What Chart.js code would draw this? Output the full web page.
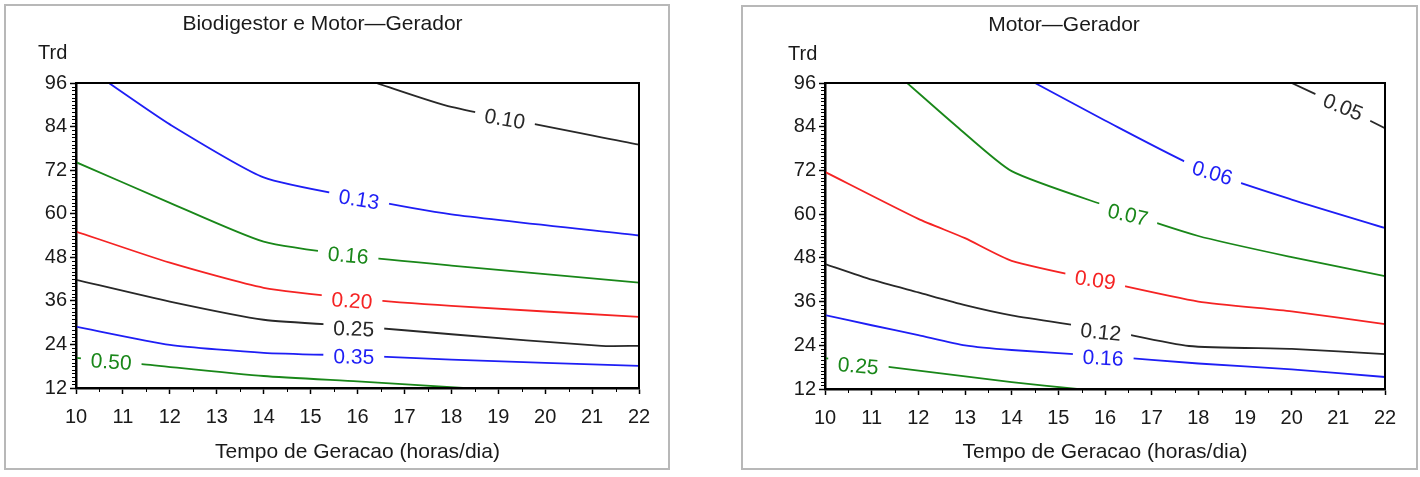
<!DOCTYPE html>
<html>
<head>
<meta charset="utf-8">
<script src="https://cdn.jsdelivr.net/npm/chart.js@4.4.0/dist/chart.umd.min.js"></script>
<style>
  body { margin: 0; background: #fff; width: 1420px; height: 477px; position: relative; overflow: hidden; }
  .panel { position: absolute; border: 2px solid #b8b8b8; }
  #p1 { left: 4px; top: 4px; width: 662px; height: 462px; }
  #p2 { left: 741px; top: 5px; width: 673px; height: 461px; }
  canvas { display: block; }
</style>
</head>
<body>
<div class="panel" id="p1"><canvas id="c1" width="662" height="462"></canvas></div>
<div class="panel" id="p2"><canvas id="c2" width="673" height="461"></canvas></div>
<script>
const FONT = '"Liberation Sans", Arial, sans-serif';

// axis ranges (Tempo de Geracao vs Trd)
const xTicks = [10, 11, 12, 13, 14, 15, 16, 17, 18, 19, 20, 21, 22];
const yTicks = [12, 24, 36, 48, 60, 72, 84, 96];

// Biodigestor e Motor-Gerador : contour lines [hours, Trd]
const bioLevels = ['0.10', '0.13', '0.16', '0.20', '0.25', '0.35', '0.50'];
const bio010 = [[16.4, 96], [18, 89.4], [22, 79]];
const bio013 = [[10.7, 96], [12, 84.6], [14, 70], [16, 64.4], [18, 59.8], [22, 54]];
const bio016 = [[10, 74.2], [12, 63], [14, 52.3], [16, 48.3], [18, 45.7], [22, 41]];
const bio020 = [[10, 55.1], [12, 46.5], [14, 39.6], [16, 36.6], [18, 34.6], [22, 31.6]];
const bio025 = [[10, 41.8], [12, 35.8], [14, 30.8], [16, 29], [18, 26.8], [21.2, 23.6], [22, 23.6]];
const bio035 = [[10, 28.9], [12, 23.9], [14, 21.7], [16, 20.9], [18, 19.8], [22, 18.1]];
const bio050 = [[10, 20.3], [11.4, 18.6], [14, 15.3], [16, 13.8], [18.25, 12]];

// Motor-Gerador : contour lines [hours, Trd]
const mgLevels = ['0.05', '0.06', '0.07', '0.09', '0.12', '0.16', '0.25'];
const mg005 = [[20, 96], [21, 90], [22, 83.6]];
const mg006 = [[14.5, 96], [16, 85.7], [18, 72.7], [20, 64], [22, 56.2]];
const mg007 = [[11.76, 96], [12.83, 84], [14, 71.8], [16, 62.4], [18, 54], [20, 48.2], [22, 43]];
const mg009 = [[10, 71.6], [12, 58.7], [13, 53.4], [14, 47.2], [16, 41.4], [18, 36], [20, 33.3], [22, 29.8]];
const mg012 = [[10, 46.3], [11, 42], [12, 38.5], [13, 35], [14, 32.2], [16, 28.2], [17.8, 23.8], [20, 23], [22, 21.6]];
const mg016 = [[10, 32.3], [11, 29.5], [12, 26.8], [13, 24], [14, 22.7], [16, 21], [18, 19], [20, 17.4], [22, 15.3]];
const mg025 = [[10, 20.5], [11.4, 18], [14, 13.9], [15.4, 12]];

const BLACK = 'rgb(40,40,40)', BLUE = 'rgb(30,30,245)', GREEN = 'rgb(25,135,25)', RED = 'rgb(245,35,35)';
const bioColors = [BLACK, BLUE, GREEN, RED, BLACK, BLUE, GREEN];
const mgColors = [BLACK, BLUE, GREEN, RED, BLACK, BLUE, GREEN];

// where each level's label sits on its line: [x, y, angle deg]
const bioPlace = [[19.14, 86.05, 10], [16.03, 63.9, 9], [15.8, 48.5, 5], [15.88, 36, 4], [15.92, 28.3, 2], [15.92, 20.6, 1], [10.75, 19.2, 4]];
const mgPlace = [[21.1, 89.4, 22], [18.3, 71.3, 17], [16.49, 59.8, 13], [15.79, 41.9, 8], [15.91, 27.6, 6], [15.96, 20.5, 3], [10.71, 18.3, 5]];

const decor = {
  id: 'decor',
  afterDatasetsDraw(chart, args, opts) {
    const {ctx, chartArea: a, scales: {x, y}} = chart;
    ctx.save();
    // contour labels with a gap in the line
    ctx.font = '21px ' + FONT;
    ctx.textAlign = 'center';
    ctx.textBaseline = 'middle';
    opts.levels.forEach((txt, i) => {
      const [lx, ly, ang] = opts.place[i];
      const w = ctx.measureText(txt).width + 20;
      ctx.save();
      ctx.translate(x.getPixelForValue(lx), y.getPixelForValue(ly));
      ctx.rotate(ang * Math.PI / 180);
      ctx.fillStyle = '#fff';
      ctx.fillRect(-w / 2, -10, w, 20);
      ctx.fillStyle = opts.colors[i];
      ctx.fillText(txt, 0, 1);
      ctx.restore();
    });
    // frame
    ctx.strokeStyle = '#000';
    ctx.lineWidth = 2;
    ctx.strokeRect(a.left, a.top, a.width, a.height);
    // minor ticks
    ctx.lineWidth = 1;
    ctx.beginPath();
    for (let v = 12; v <= 96; v++) {
      if (v % 12 === 0) continue;
      const py = Math.round(y.getPixelForValue(v)) + 0.5;
      ctx.moveTo(a.left - 4, py);
      ctx.lineTo(a.left, py);
    }
    for (let v = 10.5; v < 22; v++) {
      const px = Math.round(x.getPixelForValue(v)) + 0.5;
      ctx.moveTo(px, a.bottom);
      ctx.lineTo(px, a.bottom + 4);
    }
    ctx.stroke();
    // y axis name above the axis
    ctx.fillStyle = '#1a1a1a';
    ctx.font = '20px ' + FONT;
    ctx.textAlign = 'left';
    ctx.fillText('Trd', opts.trdX, 47);
    ctx.restore();
  }
};

function makeChart(id, title, lines, levels, colors, place, box) {
  const datasets = lines.map((pts, i) => ({
    label: levels[i],
    data: pts.map(p => ({x: p[0], y: p[1]})),
    borderColor: colors[i],
    borderWidth: 1.8,
    pointRadius: 0,
    tension: 0.2,
    fill: false
  }));
  const tickFont = {family: FONT, size: 20};
  return new Chart(id, {
    type: 'line',
    data: {datasets},
    options: {
      responsive: false,
      animation: false,
      layout: {padding: {top: 0, right: box.right, left: 0, bottom: 0}},
      plugins: {
        legend: {display: false},
        tooltip: {enabled: false},
        title: {
          display: true, text: title, color: '#1a1a1a',
          font: {family: FONT, size: 21, weight: 'normal', lineHeight: 1},
          padding: {top: 8, bottom: box.gap - 1}
        },
        decor: {levels, colors, place, trdX: box.trdX}
      },
      scales: {
        x: {
          type: 'linear', min: xTicks[0], max: xTicks[xTicks.length - 1],
          afterBuildTicks: s => { s.ticks = xTicks.map(v => ({value: v})); },
          ticks: {color: '#1a1a1a', font: tickFont, padding: 11, maxRotation: 0, autoSkip: false},
          grid: {drawOnChartArea: false, drawTicks: true, tickLength: 6, color: '#000', tickWidth: 1.5},
          border: {display: true, color: '#000', width: 2.5},
          title: {
            display: true, text: 'Tempo de Geracao (horas/dia)', color: '#1a1a1a',
            font: {family: FONT, size: 21, lineHeight: 1}, padding: {top: 0, bottom: 5}
          },
          afterFit: s => { s.height = box.bottom; }
        },
        y: {
          type: 'linear', min: yTicks[0], max: yTicks[yTicks.length - 1],
          afterBuildTicks: s => { s.ticks = yTicks.map(v => ({value: v})); },
          ticks: {color: '#1a1a1a', font: tickFont, padding: 3, autoSkip: false},
          grid: {drawOnChartArea: false, drawTicks: true, tickLength: 6, color: '#000', tickWidth: 1.5},
          border: {display: true, color: '#000', width: 2.5},
          afterFit: s => { s.width = box.left; }
        }
      }
    },
    plugins: [decor]
  });
}

makeChart('c1', 'Biodigestor e Motor\u2014Gerador',
  [bio010, bio013, bio016, bio020, bio025, bio035, bio050],
  bioLevels, bioColors, bioPlace,
  {left: 70, bottom: 80, right: 29, gap: 49, trdX: 32});

makeChart('c2', 'Motor\u2014Gerador',
  [mg005, mg006, mg007, mg009, mg012, mg016, mg025],
  mgLevels, mgColors, mgPlace,
  {left: 82, bottom: 79, right: 31, gap: 48, trdX: 45});
</script>
</body>
</html>
